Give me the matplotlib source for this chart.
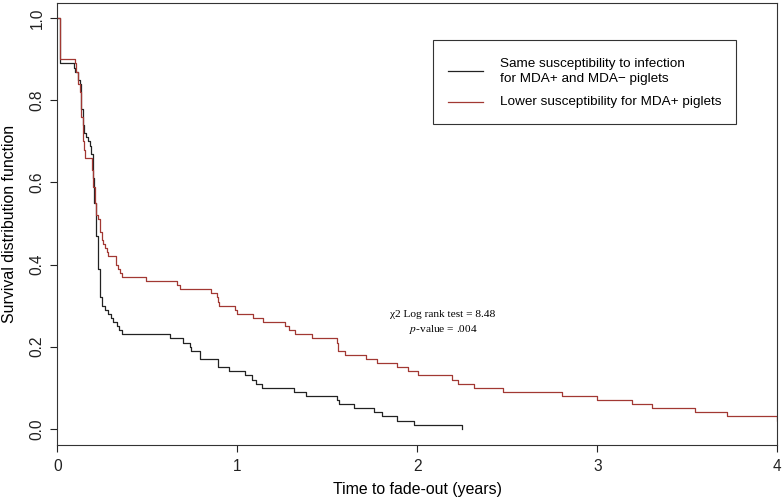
import matplotlib.pyplot as plt
from matplotlib.patches import Rectangle
from matplotlib.lines import Line2D

# ---------- data (time in years, survival after the drop) ----------
same_t = [0.0, 0.015, 0.09, 0.10, 0.115, 0.125, 0.133, 0.143, 0.15, 0.16, 0.171, 0.18,
          0.189, 0.198, 0.205, 0.215, 0.228, 0.237, 0.247, 0.265, 0.283, 0.296, 0.311,
          0.33, 0.344, 0.358, 0.626, 0.70, 0.737, 0.742, 0.793, 0.894, 0.956, 1.045,
          1.08, 1.104, 1.135, 1.317, 1.38, 1.552, 1.567, 1.648, 1.76, 1.802, 1.885,
          1.984, 2.247]
same_s = [1.0, 0.89, 0.88, 0.87, 0.85, 0.84, 0.78, 0.74, 0.72, 0.71, 0.70, 0.69,
          0.67, 0.61, 0.55, 0.47, 0.39, 0.32, 0.30, 0.29, 0.28, 0.27, 0.26,
          0.25, 0.24, 0.23, 0.22, 0.21, 0.20, 0.19, 0.17, 0.15, 0.14, 0.13,
          0.12, 0.11, 0.10, 0.09, 0.08, 0.07, 0.06, 0.05, 0.04, 0.03, 0.02,
          0.01, 0.0]

lower_t = [0.0, 0.015, 0.098, 0.106, 0.115, 0.124, 0.133, 0.143, 0.15, 0.156, 0.191,
           0.20, 0.209, 0.217, 0.224, 0.237, 0.247, 0.256, 0.265, 0.274, 0.283, 0.324,
           0.339, 0.348, 0.358, 0.49, 0.663, 0.682, 0.855, 0.885, 0.895, 0.90, 0.985,
           0.997, 1.085, 1.144, 1.265, 1.289, 1.32, 1.413, 1.552, 1.561, 1.598, 1.713,
           1.774, 1.885, 1.95, 2.006, 2.19, 2.228, 2.313, 2.478, 2.802, 2.997, 3.19,
           3.306, 3.543, 3.722, 3.998, 4.3]
lower_s = [1.0, 0.90, 0.89, 0.87, 0.84, 0.82, 0.76, 0.70, 0.68, 0.66, 0.63,
           0.59, 0.55, 0.52, 0.51, 0.48, 0.46, 0.45, 0.44, 0.43, 0.42, 0.40,
           0.39, 0.38, 0.37, 0.36, 0.35, 0.34, 0.33, 0.32, 0.31, 0.30, 0.29,
           0.28, 0.27, 0.26, 0.25, 0.24, 0.23, 0.22, 0.21, 0.19, 0.18, 0.17,
           0.16, 0.15, 0.14, 0.13, 0.12, 0.11, 0.10, 0.09, 0.08, 0.07, 0.06,
           0.05, 0.04, 0.03, 0.02, 0.02]

x_ticks = [0, 1, 2, 3, 4]
y_ticks = [0.0, 0.2, 0.4, 0.6, 0.8, 1.0]
legend_labels = ["Same susceptibility to infection\nfor MDA+ and MDA\u2212 piglets",
                 "Lower susceptibility for MDA+ piglets"]
stat_lines = ["\u03c72 Log rank test = 8.48", "$\\mathit{p}$-value = .004"]

black_col = '#222222'
red_col = '#a23833'


def main():
    plt.rcParams['font.family'] = ['Liberation Sans', 'DejaVu Sans']
    plt.rcParams['mathtext.fontset'] = 'stix'
    W, H = 783, 503
    fig = plt.figure(figsize=(W / 100, H / 100), dpi=100)
    ax = fig.add_axes([57.3 / W, 1 - 445 / H, 720 / W, 442.3 / H])

    ax.step(same_t, same_s, where='post', color=black_col, lw=0.9)
    ax.step(lower_t, lower_s, where='post', color=red_col, lw=0.9)

    ax.set_xlim(0, 4)
    ax.set_ylim(-0.0395, 1.038)
    ax.set_xticks(x_ticks)
    ax.set_xticklabels([str(v) for v in x_ticks])
    ax.set_yticks(y_ticks)
    ax.set_yticklabels(['%.1f' % v for v in y_ticks], rotation=90, va='center')
    ax.tick_params(direction='out', length=5, width=0.8, labelsize=11.2, colors='#222222')
    ax.tick_params(axis='x', pad=5)
    ax.tick_params(axis='y', pad=4)
    for sp in ax.spines.values():
        sp.set_linewidth(0.8)
        sp.set_color('#333333')

    ax.set_xlabel('Time to fade-out (years)', fontsize=11.4, labelpad=6)
    ax.set_ylabel('Survival distribution function', fontsize=11.4, labelpad=9)

    # ---------- legend drawn by hand ----------
    tf = fig.transFigure
    def fx(px):
        return px / W
    def fy(py):
        return 1 - py / H
    fig.patches.append(Rectangle((fx(433), fy(124)), fx(736) - fx(433), fy(40.5) - fy(124),
                                 transform=tf, fill=False, edgecolor='#333333', lw=0.8))
    fig.lines.append(Line2D([fx(448), fx(483)], [fy(71), fy(71)], transform=tf,
                            color=black_col, lw=0.9))
    fig.lines.append(Line2D([fx(448), fx(483)], [fy(102), fy(102)], transform=tf,
                            color=red_col, lw=0.9))
    fig.text(fx(500.5), fy(71.5), legend_labels[0], fontsize=9.7, va='center', ha='left',
             linespacing=1.3)
    fig.text(fx(500.5), fy(102.5), legend_labels[1], fontsize=9.7, va='center', ha='left')

    # stats annotation
    fig.text(fx(443), fy(314.3), stat_lines[0], fontsize=8.2, ha='center', va='center',
             family='Liberation Serif')
    fig.text(fx(443), fy(329), stat_lines[1], fontsize=8.2, ha='center', va='center',
             family='Liberation Serif')

    fig.savefig('out.png', dpi=100)


if __name__ == '__main__':
    main()
